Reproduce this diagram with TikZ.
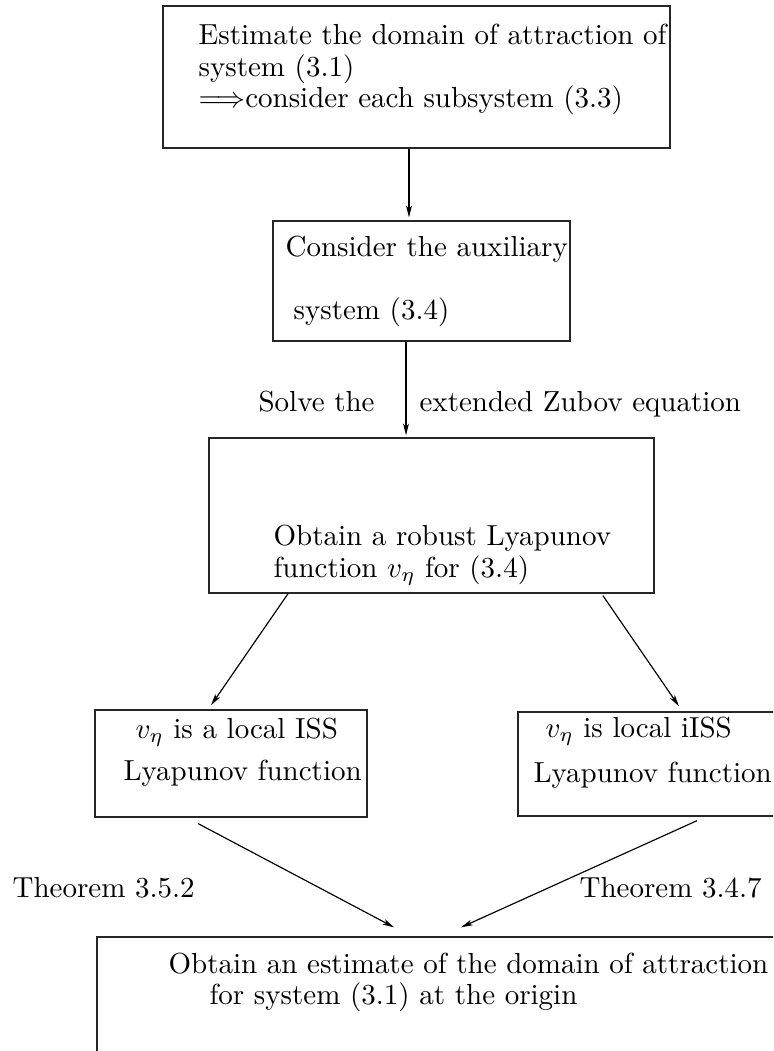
\documentclass[tikz,border=0pt]{standalone}
\usetikzlibrary{arrows.meta,fit}
\begin{document}
\begin{tikzpicture}[x=0.3448pt,y=-0.3448pt,
  box/.style={draw=black!85,line width=0.5pt,inner sep=0pt,fit={#1}},
  txt/.style={anchor=base west,inner sep=0pt,font=\fontsize{10}{12}\selectfont},
  arr/.style={-{Stealth[length=4pt,width=2pt,inset=1pt]},line width=0.4pt}]
\useasboundingbox (0,0) rectangle (773,1051);
\clip (0,0) rectangle (773,1051);
% boxes
\node[box={(163,6)(670,148)}] (b1) {};
\node[box={(273,221)(570,341)}] (b2) {};
\node[box={(209,438)(654,593)}] (b3) {};
\node[box={(95,710)(367,817)}] (b4) {};
\node[box={(518,712)(800,816)}] (b5) {};
\node[box={(97,937)(800,1080)}] (b6) {};
% texts
\node[txt] (t1a) at (198,45) {Estimate the domain of attraction of};
\node[txt] (t1b) at (198,77) {system (3.1)};
\node[txt] (t1c) at (198,108) {$\Longrightarrow$consider each subsystem (3.3)};
\node[txt] (t2a) at (285,257) {Consider the auxiliary};
\node[txt] (t2b) at (293,320) {system (3.4)};
\node[txt] (l1) at (258,412) {Solve the};
\node[txt] (l2) at (419,412) {extended Zubov equation};
\node[txt] (t3a) at (273,545) {Obtain a robust Lyapunov};
\node[txt] (t3b) at (273,577) {function $v_\eta$ for (3.4)};
\node[txt] (t4a) at (135,738) {$v_\eta$ is a local ISS};
\node[txt] (t4b) at (123,780) {Lyapunov function};
\node[txt] (t5a) at (545,737) {$v_\eta$ is local iISS};
\node[txt] (t5b) at (533,782) {Lyapunov function};
\node[txt] (l3) at (12,897) {Theorem 3.5.2};
\node[txt] (l4) at (579,897) {Theorem 3.4.7};
\node[txt] (t6a) at (168,973) {Obtain an estimate of the domain of attraction};
\node[txt] (t6b) at (209,1004) {for system (3.1) at the origin};
% connector x positions
\coordinate (x1) at (409,0);
\coordinate (x2) at (406,0);
\coordinate (x3s) at (288,0);
\coordinate (x3e) at (208.3,0);
\coordinate (x4s) at (601.6,0);
\coordinate (x4e) at (682.4,0);
\coordinate (x5s) at (187,0);
\coordinate (x5e) at (411,0);
\coordinate (x6s) at (705.7,0);
\coordinate (x6e) at (441.3,0);
% connectors
\draw[arr,shorten >=1pt] (b1.south -| x1) -- (b2.north -| x1);
\draw[arr,shorten >=0.7pt] (b2.south -| x2) -- (b3.north -| x2);
\draw[arr,shorten >=1.7pt] (b3.south -| x3s) -- (b4.north -| x3e);
\draw[arr,shorten <=0.8pt,shorten >=2.1pt] (b3.south -| x4s) -- (b5.north -| x4e);
\draw[arr,shorten <=4.3pt,shorten >=6.6pt] (b4.south -| x5s) -- (b6.north -| x5e);
\draw[arr,shorten <=3.3pt,shorten >=7.5pt] (b5.south -| x6s) -- (b6.north -| x6e);
\end{tikzpicture}
\end{document}
